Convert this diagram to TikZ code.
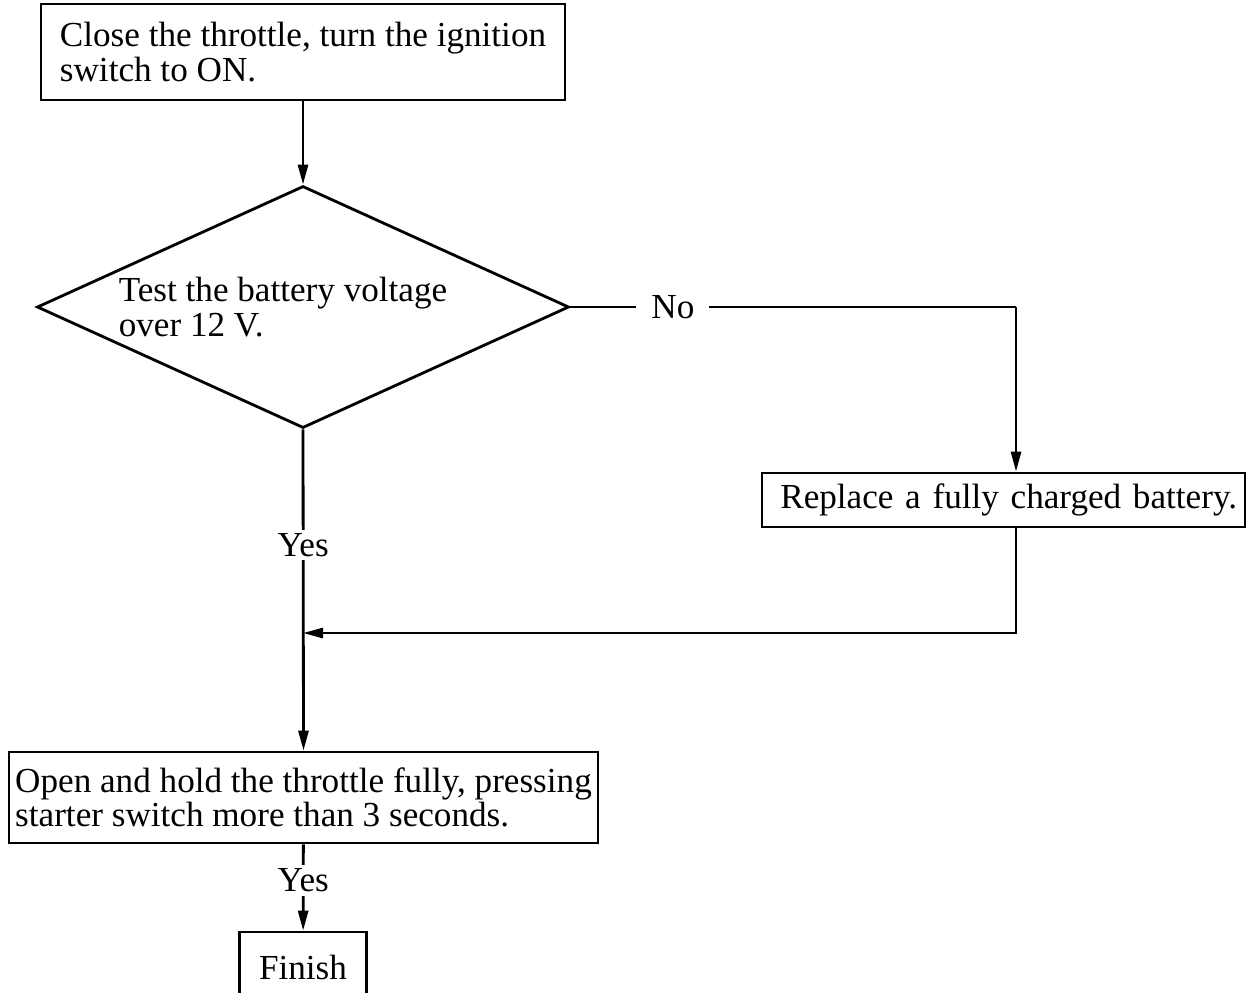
\documentclass[tikz,border=0pt]{standalone}
\usepackage{fontspec}
\setmainfont{Liberation Serif}
\usetikzlibrary{arrows.meta, shapes.geometric, positioning}
\tikzset{
  stepbox/.style={draw, rectangle, inner ysep=0pt, align=left},
  decision/.style={draw, diamond, aspect=2.2, minimum width=5.32cm, minimum height=2.42cm, inner sep=0pt, align=left},
  flow/.style={-{Triangle[length=0.2cm, width=0.1cm]}},
  answer/.style={fill=white, inner xsep=0.15cm, inner ysep=1pt}
}

\begin{document}
\begin{tikzpicture}[line width=0.8pt, font=\fontsize{10}{9.8}\selectfont]
  \useasboundingbox (0,0) rectangle (12.48,-9.92);

  \node[stepbox, minimum width=5.24cm, minimum height=0.96cm] (start) at (3.03,-0.52) {Close the throttle, turn the ignition\\switch to ON.};
  \node[decision] (test) at (3.03,-3.07) {Test the battery voltage\hspace*{0.4cm}\\over 12 V.};
  \node[stepbox, minimum height=0.54cm, text width=4.67cm, inner xsep=0.08cm, align=right] (replace) at (10.035,-5.0) {Replace a fully charged battery.};
  \node[stepbox, minimum width=5.89cm, minimum height=0.91cm, inner xsep=0.05cm] (open) at (3.035,-7.975) {Open and hold the throttle fully, pressing\\starter switch more than 3 seconds.};
  \node[stepbox, minimum width=1.27cm, minimum height=0.70cm, align=center] (finish) at (3.03,-9.67) {Finish};

  \coordinate (nocorner) at (10.16,-3.07);
  \coordinate (merge) at (3.03,-6.33);

  \draw[flow] (start) -- (test);
  \draw (test.east) -- node[answer, pos=0.23] {No} (nocorner);
  \draw[flow] (nocorner) -- (nocorner |- replace.north);
  \draw[flow] (nocorner |- replace.south) |- (merge);
  \draw[flow] (test.south) -- node[answer, pos=0.36] {Yes} (open.north);
  \draw[flow] (open) -- node[answer, pos=0.42] {Yes} (finish);
\end{tikzpicture}
\end{document}
